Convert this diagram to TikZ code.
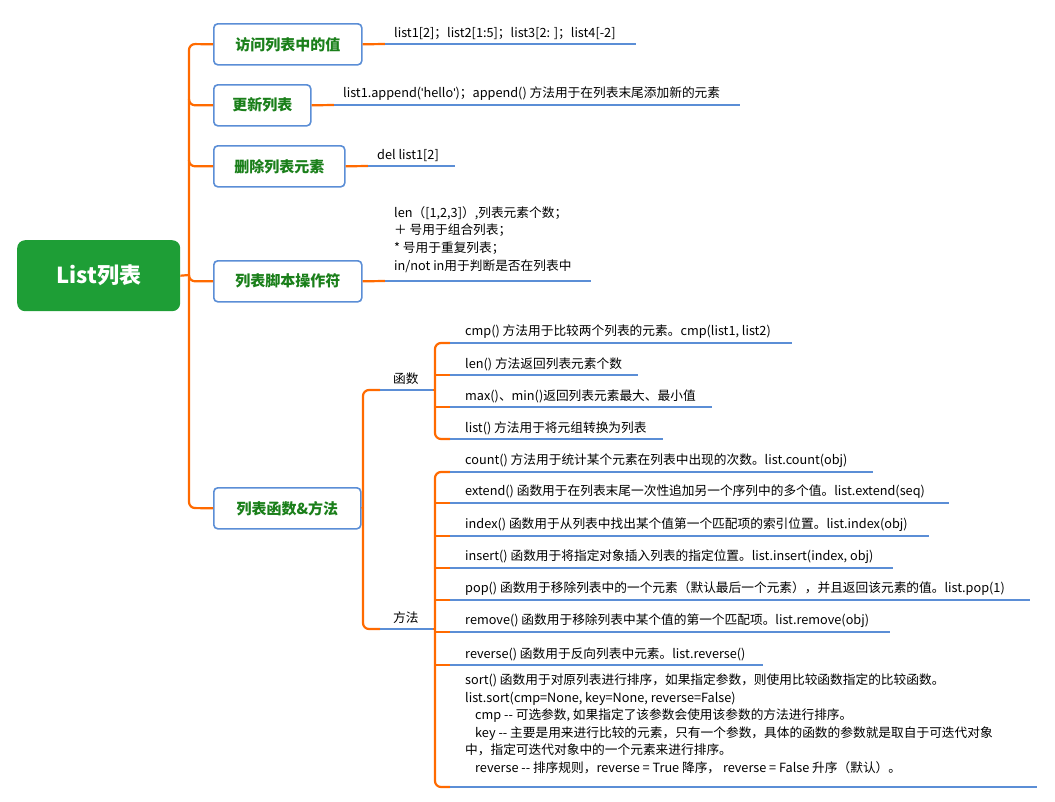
\documentclass[tikz,border=0pt]{standalone}
\usepackage{fontspec}
\setmainfont{Noto Sans CJK SC}
\newfontfamily\latf{Liberation Sans}
\begin{document}
\begin{tikzpicture}[x=1pt,y=-1pt,
  orl/.style={draw=orgc,line width=2.2pt,rounded corners=6pt},
  bll/.style={draw=blc,line width=2.2pt},
  bx/.style={draw=blc,line width=1.6pt,fill=white,rounded corners=4pt,inner sep=0pt,anchor=north west},
  bxt/.style={text=grc,font=\bfseries\fontsize{15}{17}\selectfont},
  tx/.style={anchor=south west,inner sep=1pt,font=\fontsize{12.7}{14}\selectfont},
]
\definecolor{orgc}{HTML}{FF6A00}
\definecolor{blc}{HTML}{5B8ED6}
\definecolor{grc}{HTML}{1A7F1A}
\definecolor{rootc}{HTML}{1E9E36}
\useasboundingbox (0,0) rectangle (1055,801);
% root
\node[fill=rootc,rounded corners=8pt,minimum width=163pt,minimum height=71pt,anchor=north west,inner sep=0pt,text=white,font=\bfseries\fontsize{22}{26}\selectfont] (root) at (17,240) {List列表};
% boxes
\node[bx,minimum width=148pt,minimum height=41pt] (b1) at (213,23) {};
\node[bxt] at (b1.center) {访问列表中的值};
\node[bx,minimum width=97pt,minimum height=41pt] (b2) at (213,84) {};
\node[bxt] at (b2.center) {更新列表};
\node[bx,minimum width=131pt,minimum height=41pt] (b3) at (213,145) {};
\node[bxt] at (b3.center) {删除列表元素};
\node[bx,minimum width=148pt,minimum height=41pt] (b4) at (213,260) {};
\node[bxt] at (b4.center) {列表脚本操作符};
\node[bx,minimum width=147pt,minimum height=41pt] (b5) at (213,487) {};
\node[bxt] at (b5.center) {列表函数\&方法};
% trunk
\coordinate (tr) at (189,275);
\draw[orl] (root.east) -- (tr);
\draw[orl] (b1.west) -- (189,44) -- (189,508) -- (b5.west);
\draw[orl] (189,100) |- (b2.west);
\draw[orl] (189,160) |- (b3.west);
\draw[orl] (189,275) |- (b4.west);
% level-1 leaves
\draw[orl,rounded corners=0] (b1.east) -- (385,44); \draw[bll] (385,44) -- (636,44);
\node[tx] at (393,41) {list1[2]；list2[1:5]；list3[2: ]；list4[-2]};
\draw[orl,rounded corners=0] (b2.east) -- (334,105); \draw[bll] (334,105) -- (740,105);
\node[tx] at (342,102) {list1.append({\latf\char39}hello{\latf\char39})；append() 方法用于在列表末尾添加新的元素};
\draw[orl,rounded corners=0] (b3.east) -- (368,166); \draw[bll] (368,166) -- (455,166);
\node[tx] at (376,163) {del list1[2]};
\draw[orl,rounded corners=0] (b4.east) -- (385,281); \draw[bll] (385,281) -- (591,281);
\node[tx,anchor=north west,align=left,font=\fontsize{12.7}{17.8}\selectfont] at (393,205) {len（[1,2,3]）,列表元素个数；\\＋ 号用于组合列表；\\* 号用于重复列表；\\in/not in用于判断是否在列表中};
% sub trunk
\coordinate (fj) at (380,390);
\coordinate (ff) at (380,629);
\draw[orl] (b5.east) -- (363,508);
\draw[orl] (fj) -- (363,390) -- (363,629) -- (ff);
\draw[bll] (fj) -- (433,390); \node[tx] at (392,386) {函数};
\draw[bll] (ff) -- (433,629); \node[tx] at (392,625) {方法};
% functions
\draw[orl] (433,390) -- (435,390);
\draw[orl] (450,343) -- (435,343) -- (435,439) -- (450,439);
\draw[orl] (435,375) -- (450,375);
\draw[orl] (435,407) -- (450,407);
\draw[bll] (450,343) -- (792,343); \node[tx] at (464,340) {cmp() 方法用于比较两个列表的元素。cmp(list1, list2)};
\draw[bll] (450,375) -- (638,375); \node[tx] at (464,372) {len() 方法返回列表元素个数};
\draw[bll] (450,407) -- (712,407); \node[tx] at (464,404) {max()、min()返回列表元素最大、最小值};
\draw[bll] (450,439) -- (663,439); \node[tx] at (464,436) {list() 方法用于将元组转换为列表};
% methods
\draw[orl] (433,629) -- (435,629);
\draw[orl] (450,472) -- (435,472) -- (435,787) -- (450,787);
\foreach \yy in {503,536,568,600,632,665} \draw[orl] (435,\yy) -- (450,\yy);
\draw[bll] (450,472) -- (873,472); \node[tx] at (464,469) {count() 方法用于统计某个元素在列表中出现的次数。list.count(obj)};
\draw[bll] (450,503) -- (949,503); \node[tx] at (464,500) {extend() 函数用于在列表末尾一次性追加另一个序列中的多个值。list.extend(seq)};
\draw[bll] (450,536) -- (929,536); \node[tx] at (464,533) {index() 函数用于从列表中找出某个值第一个匹配项的索引位置。list.index(obj)};
\draw[bll] (450,568) -- (893,568); \node[tx] at (464,565) {insert() 函数用于将指定对象插入列表的指定位置。list.insert(index, obj)};
\draw[bll] (450,600) -- (1030,600); \node[tx] at (464,597) {pop() 函数用于移除列表中的一个元素（默认最后一个元素），并且返回该元素的值。list.pop(1)};
\draw[bll] (450,632) -- (890,632); \node[tx] at (464,629) {remove() 函数用于移除列表中某个值的第一个匹配项。list.remove(obj)};
\draw[bll] (450,665) -- (763,665); \node[tx] at (464,662) {reverse() 函数用于反向列表中元素。list.reverse()};
\draw[bll] (450,787) -- (1037,787);
\node[tx,anchor=north west,align=left,font=\fontsize{12.7}{17.5}\selectfont] at (464,673) {sort() 函数用于对原列表进行排序，如果指定参数，则使用比较函数指定的比较函数。\\list.sort(cmp=None, key=None, reverse=False)\\\hspace*{10pt}cmp -{}- 可选参数, 如果指定了该参数会使用该参数的方法进行排序。\\\hspace*{10pt}key -{}- 主要是用来进行比较的元素，只有一个参数，具体的函数的参数就是取自于可迭代对象\\中，指定可迭代对象中的一个元素来进行排序。\\\hspace*{10pt}reverse -{}- 排序规则，reverse = True 降序， reverse = False 升序（默认）。};
\end{tikzpicture}
\end{document}
